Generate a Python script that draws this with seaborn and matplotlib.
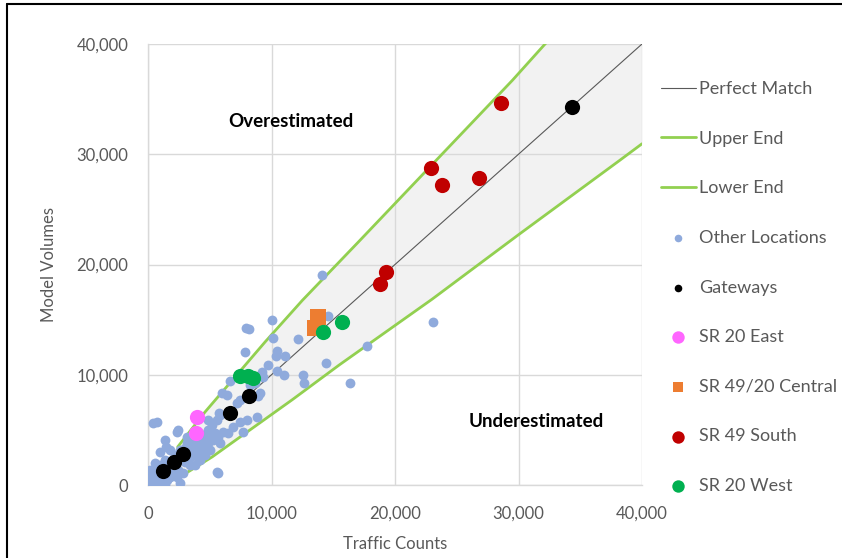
import matplotlib
matplotlib.use("Agg")
import matplotlib.pyplot as plt
from matplotlib.lines import Line2D
import seaborn as sns
import numpy as np

# ---------------- data ----------------
other_x = [405, 729, 1377, 1458, 2348, 2429, 3158, 3158, 972, 1781, 567, 1134, 324, 567, 972,
           1538, 2591, 2024, 3401, 4049, 4615, 5020, 4777, 5182, 5425, 6073, 6478, 5830, 4858,
           5182, 5587, 5830, 3401, 3644, 4210, 2834, 3401, 3968, 2348, 2834, 1781, 5587, 6882,
           7449, 8016, 7692, 5749, 6640, 5992, 6397, 8907, 8826, 7449, 7206, 4858, 7935, 8178,
           7854, 10040, 10121, 12146, 10445, 10364, 11093, 9716, 10445, 11012, 12551, 12632,
           9231, 9312, 9069, 14413, 17733, 16356, 14089, 23077, 14575, 5668, 162, 324, 81,
           8259, 8664, 162, 810, 1377, 2186, 2996, 3806, 4210, 4453,
           162, 567, 972, 1377, 1781, 2186, 2591, 2996, 3563, 4049, 4453, 4858, 5263, 5668,
           3806, 4210, 1943, 2429, 810, 1377]
other_y = [5624, 5714, 4082, 3447, 4807, 4989, 4354, 3809, 2993, 3175, 1995, 1542, 726, 454, 272,
           454, 181, 1179, 1814, 2449, 2721, 3175, 4082, 4354, 4716, 4807, 4716, 3809, 4989,
           5442, 5896, 6349, 4082, 3447, 3447, 2540, 2540, 2902, 726, 1088, 726, 1179, 5261,
           5714, 5896, 4807, 6530, 9433, 8344, 8163, 8072, 6168, 7710, 7437, 5896, 14240, 14149,
           12063, 14966, 13333, 13242, 12154, 11700, 11700, 10884, 10340, 9977, 9977, 9251,
           10249, 9796, 8344, 11065, 12607, 9251, 19047, 14784, 15328, 1088, 0, 181, 454,
           9070, 9251, 1360, 907, 1360, 1814, 2086, 3628, 4082, 4535,
           635, 1179, 1814, 2268, 2086, 2721, 3175, 3356, 2993, 3628, 3447, 3809, 4082, 4354,
           1814, 2268, 1542, 1360, 91, 0]

gate_x = [1215, 2105, 2834, 6640, 8178, 34332]
gate_y = [1270, 2086, 2812, 6531, 8073, 34286]

east_x = [3968, 3887]
east_y = [6168, 4717]

central_x = [13765, 13522]
central_y = [15238, 14240]

south_x = [28583, 22915, 23806, 26802, 19271, 18785]
south_y = [34649, 28753, 27211, 27846, 19320, 18231]

west_x = [14170, 15709, 7450, 8100, 8500]
west_y = [13878, 14785, 9890, 9890, 9700]

upper_x = [2400, 4600, 9500, 12500, 17000, 20400, 29500, 32150, 40000]
upper_y = [3450, 6600, 13000, 16750, 22000, 26000, 36700, 40000, 48800]

lower_x = [2400, 5200, 11700, 15500, 23000, 30000, 38200, 40000]
lower_y = [600, 2550, 7750, 10900, 16850, 22700, 29450, 30950]

perfect_x = [0, 40000]
perfect_y = [0, 40000]

ticks = [0, 10000, 20000, 30000, 40000]
tick_labels = ["0", "10,000", "20,000", "30,000", "40,000"]

# ---------------- style ----------------
sns.set_theme(style="white")
plt.rcParams['font.family'] = ['Lato', 'DejaVu Sans']
gray_txt = "#595959"

fig = plt.figure(figsize=(8.42, 5.58), dpi=100)
ax = fig.add_axes([148/842, 1-485/558, (642-148)/842, (485-44)/558])

# shaded band between curves
bx = np.linspace(0, 40000, 400)
up_i = np.interp(bx, upper_x, upper_y)
lo_i = np.interp(bx, lower_x, lower_y)
mask = bx >= upper_x[0]
ax.fill_between(bx[mask], lo_i[mask], up_i[mask], color="#F2F2F2", zorder=0.5, linewidth=0)

sns.lineplot(x=perfect_x, y=perfect_y, ax=ax, color="#595959", linewidth=0.8,
             label="Perfect Match", zorder=2)
sns.lineplot(x=upper_x, y=upper_y, ax=ax, color="#92D050", linewidth=2.0,
             label="Upper End", zorder=2, sort=False)
sns.lineplot(x=lower_x, y=lower_y, ax=ax, color="#92D050", linewidth=2.0,
             label="Lower End", zorder=2, sort=False)

sns.scatterplot(x=other_x, y=other_y, ax=ax, color="#8FAADC", s=50, linewidth=0,
                label="Other Locations", zorder=3)
sns.scatterplot(x=gate_x, y=gate_y, ax=ax, color="#000000", s=120, linewidth=0,
                label="Gateways", zorder=4)
sns.scatterplot(x=east_x, y=east_y, ax=ax, color="#FF66FF", s=120, linewidth=0,
                label="SR 20 East", zorder=4)
sns.scatterplot(x=central_x, y=central_y, ax=ax, color="#ED7D31", s=120, marker="s",
                linewidth=0, label="SR 49/20 Central", zorder=4)
sns.scatterplot(x=south_x, y=south_y, ax=ax, color="#C00000", s=120, linewidth=0,
                label="SR 49 South", zorder=4)
sns.scatterplot(x=west_x, y=west_y, ax=ax, color="#00B050", s=120, linewidth=0,
                label="SR 20 West", zorder=4)

ax.set_xlim(0, 40000)
ax.set_ylim(0, 40000)
ax.set_xticks(ticks)
ax.set_yticks(ticks)
ax.set_xticklabels(tick_labels)
ax.set_yticklabels(tick_labels)
ax.tick_params(axis="both", length=0, labelsize=12, colors=gray_txt)
ax.tick_params(axis="x", pad=15)
ax.tick_params(axis="y", pad=14)
ax.grid(True, color="#D9D9D9", linewidth=1.0, zorder=0)
ax.set_axisbelow(True)
for side in ["top", "right"]:
    ax.spines[side].set_visible(False)
for side in ["left", "bottom"]:
    ax.spines[side].set_color("#D9D9D9")
    ax.spines[side].set_linewidth(1.0)

ax.set_xlabel("Traffic Counts", fontsize=12, color=gray_txt, labelpad=10)
ax.set_ylabel("Model Volumes", fontsize=12, color=gray_txt, labelpad=14)

ax.text(11600, 33000, "Overestimated", fontsize=13.5, fontweight="bold", color="black",
        ha="center", va="center")
ax.text(31400, 5800, "Underestimated", fontsize=13.5, fontweight="bold", color="black",
        ha="center", va="center")

# legend
handles, labels = ax.get_legend_handles_labels()
leg = ax.legend(handles, labels, loc="upper left", bbox_to_anchor=(654/842, 1-74/558),
                bbox_transform=fig.transFigure, frameon=False, fontsize=13,
                labelspacing=1.86, handlelength=1.9, handletextpad=0.2, borderaxespad=0)
sizes = [None, None, None, 30, 30, 80, 50, 80, 80]
for h, sz in zip(leg.legend_handles, sizes):
    if sz is not None and hasattr(h, "set_sizes"):
        h.set_sizes([sz])
for t in leg.get_texts():
    t.set_color(gray_txt)

# figure border (left and top)
fig.add_artist(Line2D([7/842, 7/842], [0, 1-4/558], transform=fig.transFigure,
                      color="black", linewidth=1.5))
fig.add_artist(Line2D([7/842, 1], [1-4/558, 1-4/558], transform=fig.transFigure,
                      color="black", linewidth=1.5))

fig.savefig("out.png", dpi=100, facecolor="white")
